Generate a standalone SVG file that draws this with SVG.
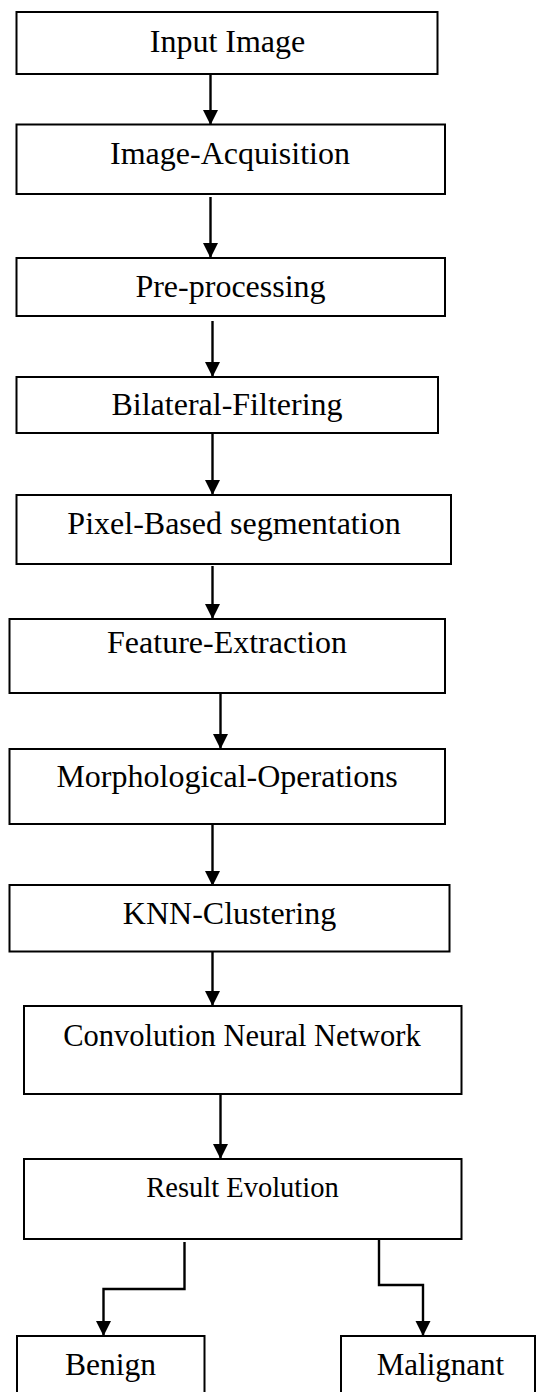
<svg xmlns="http://www.w3.org/2000/svg" width="536" height="1392" viewBox="0 0 536 1392">
  <style>
    .box { fill: #ffffff; stroke: #000000; stroke-width: 2; }
    .lbl { font-family: "Liberation Serif", "Times New Roman", serif; font-size: 32px; fill: #000000; text-anchor: middle; }
    .wire { fill: none; stroke: #000000; stroke-width: 2.4; marker-end: url(#head); }
  </style>
  <defs>
    <marker id="head" markerUnits="userSpaceOnUse" markerWidth="16" markerHeight="16" refX="15" refY="8" orient="auto">
      <path d="M0,0.5 L15,8 L0,15.5 z" fill="#000000"/>
    </marker>
  </defs>
  <rect width="536" height="1392" fill="#ffffff"/>

  <!-- connectors -->
  <g id="connectors">
    <path class="wire" d="M210.5,74 V125"/>
    <path class="wire" d="M210.5,197 V258"/>
    <path class="wire" d="M212.5,321 V377"/>
    <path class="wire" d="M212.5,433 V495"/>
    <path class="wire" d="M212.5,566 V619"/>
    <path class="wire" d="M220.5,693 V749"/>
    <path class="wire" d="M212.5,822 V886"/>
    <path class="wire" d="M212.5,951 V1006"/>
    <path class="wire" d="M220.5,1092 V1159"/>
    <path class="wire" d="M184.5,1242 V1289 H103.5 V1336"/>
    <path class="wire" d="M379,1238 V1285 H423 V1336"/>
  </g>

  <g id="input-image">
    <rect class="box" x="16.5" y="12" width="421" height="62"/>
    <text class="lbl" x="227.5" y="52">Input Image</text>
  </g>
  <g id="image-acquisition">
    <rect class="box" x="16.5" y="124.5" width="428.5" height="69.5"/>
    <text class="lbl" x="230" y="164">Image-Acquisition</text>
  </g>
  <g id="pre-processing">
    <rect class="box" x="16.5" y="258" width="428.5" height="58"/>
    <text class="lbl" x="230.5" y="297">Pre-processing</text>
  </g>
  <g id="bilateral-filtering">
    <rect class="box" x="16.5" y="377" width="421.5" height="56"/>
    <text class="lbl" x="227" y="415">Bilateral-Filtering</text>
  </g>
  <g id="pixel-segmentation">
    <rect class="box" x="16.5" y="495" width="434.5" height="69"/>
    <text class="lbl" x="234" y="534">Pixel-Based segmentation</text>
  </g>
  <g id="feature-extraction">
    <rect class="box" x="9.5" y="619" width="435.5" height="74"/>
    <text class="lbl" x="227" y="653">Feature-Extraction</text>
  </g>
  <g id="morphological-operations">
    <rect class="box" x="9.5" y="749" width="435.5" height="75"/>
    <text class="lbl" x="227" y="787">Morphological-Operations</text>
  </g>
  <g id="knn-clustering">
    <rect class="box" x="9.5" y="885" width="440" height="66.5"/>
    <text class="lbl" x="229.5" y="924">KNN-Clustering</text>
  </g>
  <g id="cnn">
    <rect class="box" x="24" y="1006" width="437.5" height="88"/>
    <text class="lbl" x="242" y="1046" style="font-size:30.5px">Convolution Neural Network</text>
  </g>
  <g id="result-evolution">
    <rect class="box" x="24" y="1159" width="437.5" height="80"/>
    <text class="lbl" x="242.5" y="1197" style="font-size:28.5px">Result Evolution</text>
  </g>
  <g id="benign">
    <rect class="box" x="17" y="1336" width="187.5" height="70"/>
    <text class="lbl" x="110.5" y="1375" style="font-size:31.5px">Benign</text>
  </g>
  <g id="malignant">
    <rect class="box" x="341" y="1336" width="194" height="70"/>
    <text class="lbl" x="440.5" y="1375" style="font-size:31px">Malignant</text>
  </g>
</svg>
